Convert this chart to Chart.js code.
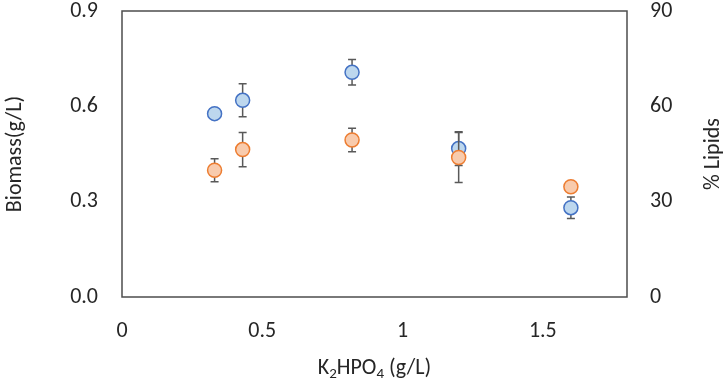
<!DOCTYPE html>
<html>
<head>
<meta charset="utf-8">
<script src="https://cdn.jsdelivr.net/npm/chart.js@4.4.1/dist/chart.umd.min.js"></script>
<style>
html,body{margin:0;padding:0;background:#fff;}
#wrap{width:726px;height:384px;}
</style>
</head>
<body>
<div id="wrap"><canvas id="c" width="726" height="384"></canvas></div>
<script>
// Data
const k2hpo4 = [0.33, 0.43, 0.82, 1.2, 1.6];
const biomass = [0.577, 0.619, 0.707, 0.467, 0.281];
const biomassErr = [0.005, 0.052, 0.040, 0.053, 0.034];
const lipids = [39.9, 46.4, 49.4, 43.9, 34.7];
const lipidsErr = [3.6, 5.4, 3.7, 7.9, 1.0];
const xTicks = [0, 0.5, 1, 1.5];
const biomassTicks = [0, 0.3, 0.6, 0.9];
const lipidTicks = [0, 30, 60, 90];
// x title pieces: [text, isSubscript]
const xTitleParts = [['K', false], ['2', true], ['HPO', false], ['4', true], [' (g/L)', false]];
const yTitle = 'Biomass(g/L)';
const y1Title = '% Lipids';

const FONT = "Carlito, Lato, 'Liberation Sans', sans-serif";
const TXT = '#262626';
const FS = 22;

const errBars = {
  id: 'errBars',
  beforeDatasetDraw(chart, args) {
    const ds = chart.data.datasets[args.index];
    if (!ds.errors) return;
    const xs = chart.scales.x, ys = chart.scales[ds.yAxisID];
    const ctx = chart.ctx;
    ctx.save();
    ctx.strokeStyle = '#595959';
    ctx.lineWidth = 1.5;
    ds.data.forEach((p, i) => {
      const e = ds.errors[i];
      const px = xs.getPixelForValue(p.x);
      const yt = ys.getPixelForValue(p.y + e);
      const yb = ys.getPixelForValue(p.y - e);
      ctx.beginPath();
      ctx.moveTo(px, yt); ctx.lineTo(px, yb);
      ctx.moveTo(px - 4, yt); ctx.lineTo(px + 4, yt);
      ctx.moveTo(px - 4, yb); ctx.lineTo(px + 4, yb);
      ctx.stroke();
    });
    ctx.restore();
  }
};

const frameAndTitles = {
  id: 'frameAndTitles',
  afterDraw(chart) {
    const a = chart.chartArea, ctx = chart.ctx;
    ctx.save();
    ctx.strokeStyle = '#4d4d4d';
    ctx.lineWidth = 1.5;
    ctx.strokeRect(a.left, a.top, a.right - a.left, a.bottom - a.top);

    // x-axis title with real subscripts
    const mainF = FS + 'px ' + FONT, subF = Math.round(FS * 0.68) + 'px ' + FONT;
    ctx.fillStyle = TXT;
    ctx.textBaseline = 'alphabetic';
    ctx.textAlign = 'left';
    let total = 0;
    xTitleParts.forEach(([t, sub]) => { ctx.font = sub ? subF : mainF; total += ctx.measureText(t).width; });
    let x = (a.left + a.right) / 2 - total / 2;
    const base = 374;
    xTitleParts.forEach(([t, sub]) => {
      ctx.font = sub ? subF : mainF;
      ctx.fillText(t, x, sub ? base + 4 : base);
      x += ctx.measureText(t).width;
    });

    // right-axis title, reading bottom to top
    ctx.font = mainF;
    ctx.textAlign = 'center';
    ctx.textBaseline = 'middle';
    ctx.translate(713, (a.top + a.bottom) / 2);
    ctx.rotate(-Math.PI / 2);
    ctx.fillText(y1Title, 0, 0);
    ctx.restore();
  }
};

function fixTicks(values) {
  return function(scale) {
    scale.ticks = values.map(v => ({value: v}));
  };
}
function fitVertical(w) {
  return function(s) {
    s.width = w;
    s.paddingTop = 0;
    s.paddingBottom = 0;
  };
}

new Chart(document.getElementById('c'), {
  type: 'scatter',
  data: {
    datasets: [
      {
        label: 'Biomass',
        data: k2hpo4.map((x, i) => ({x: x, y: biomass[i]})),
        errors: biomassErr,
        yAxisID: 'y',
        order: 1,
        pointRadius: 7,
        pointHoverRadius: 7,
        pointBackgroundColor: '#BDD7EE',
        pointBorderColor: '#4472C4',
        pointBorderWidth: 1.5
      },
      {
        label: '% Lipids',
        data: k2hpo4.map((x, i) => ({x: x, y: lipids[i]})),
        errors: lipidsErr,
        yAxisID: 'y1',
        order: 0,
        pointRadius: 7,
        pointHoverRadius: 7,
        pointBackgroundColor: '#F8CBAD',
        pointBorderColor: '#ED7D31',
        pointBorderWidth: 1.5
      }
    ]
  },
  options: {
    responsive: false,
    animation: false,
    devicePixelRatio: 1,
    layout: {padding: {top: 11, right: 0, bottom: 0, left: 0}},
    plugins: {legend: {display: false}, tooltip: {enabled: false}},
    scales: {
      x: {
        type: 'linear', position: 'bottom', min: 0, max: 1.8,
        afterBuildTicks: fixTicks(xTicks),
        afterFit(s) { s.height = 87; s.paddingLeft = 0; s.paddingRight = 0; },
        grid: {display: false, drawTicks: false},
        border: {display: false},
        ticks: {padding: 23, color: TXT, font: {family: FONT, size: FS, lineHeight: 1}, maxRotation: 0,
                callback: v => String(v)},
        title: {display: false}
      },
      y: {
        type: 'linear', position: 'left', min: 0, max: 0.9,
        afterBuildTicks: fixTicks(biomassTicks),
        afterFit: fitVertical(122),
        grid: {display: false, drawTicks: false},
        border: {display: false},
        ticks: {padding: 24, color: TXT, font: {family: FONT, size: FS, lineHeight: 1}, callback: v => v.toFixed(1)},
        title: {display: true, text: yTitle, color: TXT, font: {family: FONT, size: FS, lineHeight: 1.2}, padding: {top: 2, bottom: 0}}
      },
      y1: {
        type: 'linear', position: 'right', min: 0, max: 90,
        afterBuildTicks: fixTicks(lipidTicks),
        afterFit: fitVertical(99),
        grid: {display: false, drawTicks: false},
        border: {display: false},
        ticks: {padding: 23, color: TXT, font: {family: FONT, size: FS, lineHeight: 1}, callback: v => String(v)},
        title: {display: false}
      }
    }
  },
  plugins: [errBars, frameAndTitles]
});
</script>
</body>
</html>
